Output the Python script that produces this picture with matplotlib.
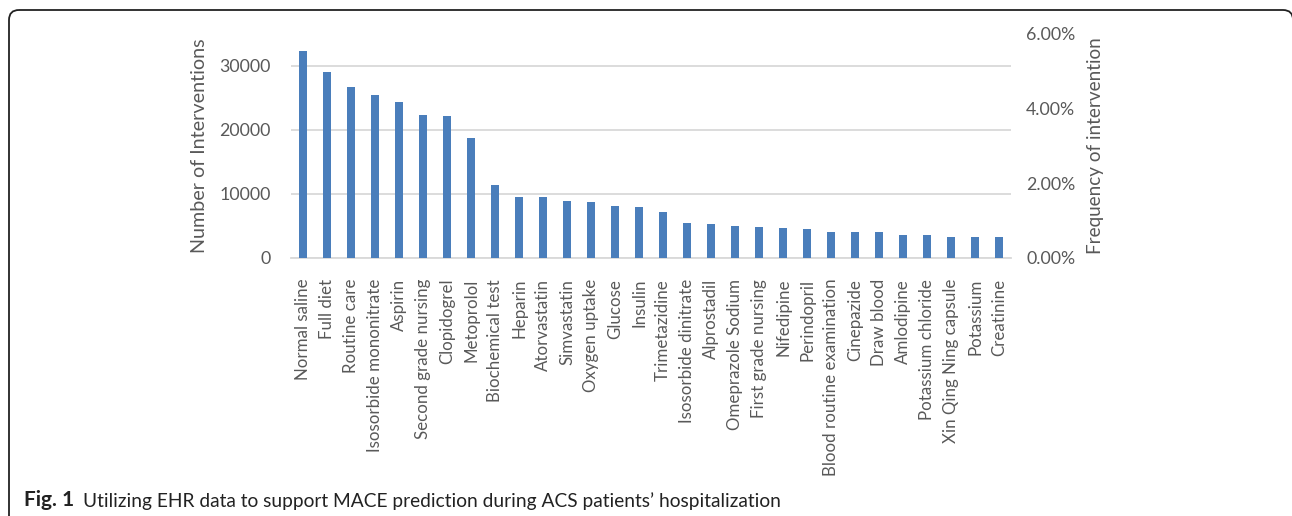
import matplotlib
matplotlib.use("Agg")
import matplotlib.pyplot as plt
from matplotlib.patches import FancyBboxPatch
from matplotlib.ticker import FuncFormatter

categories = [
    "Normal saline", "Full diet", "Routine care", "Isosorbide mononitrate",
    "Aspirin", "Second grade nursing", "Clopidogrel", "Metoprolol",
    "Biochemical test", "Heparin", "Atorvastatin", "Simvastatin",
    "Oxygen uptake", "Glucose", "Insulin", "Trimetazidine",
    "Isosorbide dinitrate", "Alprostadil", "Omeprazole Sodium",
    "First grade nursing", "Nifedipine", "Perindopril",
    "Blood routine examination", "Cinepazide", "Draw blood", "Amlodipine",
    "Potassium chloride", "Xin Qing Ning capsule", "Potassium", "Creatinine",
]
counts = [
    32400, 29000, 26700, 25500, 24400, 22350, 22200, 18700,
    11400, 9580, 9550, 8950, 8800, 8100, 7900, 7250,
    5520, 5360, 5000, 4900, 4640, 4600,
    4100, 4000, 4000, 3650, 3550, 3250, 3250, 3250,
]
left_ticks = [0, 10000, 20000, 30000]
right_ticks = [0.0, 0.02, 0.04, 0.06]

W, H = 1292, 516
fig = plt.figure(figsize=(W / 100, H / 100), dpi=100)
font = "Lato"
grey = "#595959"

ax = fig.add_axes([291.3 / W, (H - 258) / H, (1011 - 291.3) / W, (258 - 34) / H])
x = range(len(categories))
ax.bar(x, counts, width=0.33, color="#4A7EBB", zorder=3)
ax.set_xlim(-0.5, len(categories) - 0.5)
ax.set_ylim(0, 35000)
ax.set_yticks(left_ticks)
ax.set_yticklabels([str(v) for v in left_ticks], fontsize=12.8, color=grey, family=font)
ax.set_xticks(list(x))
ax.set_xticklabels(categories, rotation=90, fontsize=12.2, color=grey, family=font)
ax.tick_params(axis="x", length=0, pad=15)
ax.tick_params(axis="y", length=0, pad=15)
ax.grid(axis="y", color="#d9d9d9", linewidth=1.3, zorder=0)
for s in ["top", "right", "left"]:
    ax.spines[s].set_visible(False)
ax.spines["bottom"].set_color("#d9d9d9")
ax.spines["bottom"].set_linewidth(1.3)
ax.set_ylabel("Number of Interventions", fontsize=14.2, color=grey, family=font, labelpad=8)

ax2 = ax.twinx()
ax2.set_ylim(0, 0.06)
ax2.set_yticks(right_ticks)
ax2.yaxis.set_major_formatter(FuncFormatter(lambda v, p: f"{v * 100:.2f}%"))
for lab in ax2.get_yticklabels():
    lab.set_fontsize(12.8)
    lab.set_color(grey)
    lab.set_family(font)
ax2.tick_params(axis="y", length=0, pad=11)
for s in ax2.spines.values():
    s.set_visible(False)
ax2.set_ylabel("Frequency of intervention", fontsize=13.6, color=grey, family=font, labelpad=8)

# pixel-space overlay for the rounded panel frame and the caption
overlay = fig.add_axes([0, 0, 1, 1], zorder=-1)
overlay.set_xlim(0, W)
overlay.set_ylim(H, 0)
overlay.axis("off")
overlay.add_patch(FancyBboxPatch((9, 10), 1293 - 9, H + 40 - 10,
                                 boxstyle="round,pad=0,rounding_size=10",
                                 fill=False, edgecolor="#222222", linewidth=1.3))

overlay.text(24, 506.5, "Fig. 1", fontsize=15, fontweight="bold",
             family=font, color="#222222", va="baseline")
overlay.text(83, 506.5,
             "Utilizing EHR data to support MACE prediction during ACS patients\u2019 hospitalization",
             fontsize=13.8, family=font, color="#222222", va="baseline")

fig.savefig("out.png", dpi=100)
